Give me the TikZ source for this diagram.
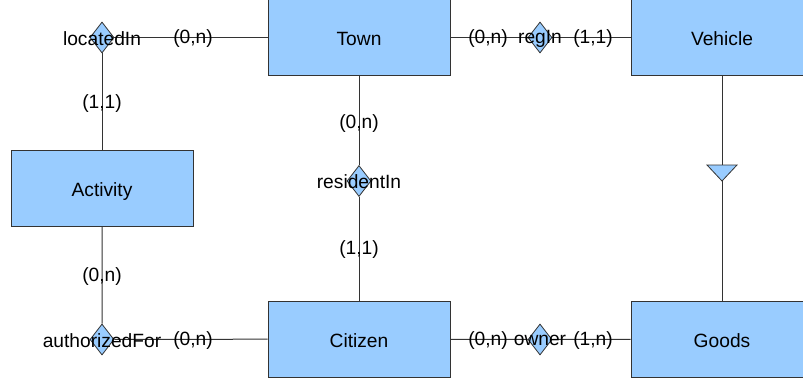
\documentclass[tikz,border=0pt]{standalone}
\usepackage{fontspec}
\setmainfont{Liberation Sans}
\usetikzlibrary{shapes.geometric,backgrounds,calc}
\definecolor{entfill}{HTML}{99CCFF}
\definecolor{edgecol}{HTML}{333333}
\begin{document}
\begin{tikzpicture}[x=1pt,y=-1pt,
  every node/.style={font=\fontsize{19.2}{23}\selectfont},
  every label/.style={yshift=-1pt},
  entity/.style={rectangle, draw=edgecol, fill=entfill, line width=1pt,
    minimum width=182pt, minimum height=76pt, inner sep=0pt,
    text height=16pt, text depth=0pt},
  rel/.style={diamond, draw=edgecol, fill=entfill, line width=0.8pt,
    minimum width=24pt, minimum height=31pt, inner sep=0pt},
  card/.style={inner sep=0pt},
  link/.style={draw=edgecol, line width=1pt}]
\useasboundingbox (0,0) rectangle (803,383);

% entities
\node[entity] (town)     at (359,37.5)  {Town};
\node[entity] (vehicle)  at (722,37.5)  {Vehicle};
\node[entity] (activity) at (102,188.5) {Activity};
\node[entity] (citizen)  at (359,339)   {Citizen};
\node[entity] (goods)    at (722,339)   {Goods};

% relationships
\node[rel, label=center:locatedIn]     (locatedIn)     at (102,37.5)  {};
\node[rel, label=center:regIn]         (regIn)         at (540,37.5)  {};
\node[rel, label=center:residentIn]    (residentIn)    at (359,181)   {};
\node[rel, label=center:authorizedFor] (authorizedFor) at (102,339.5) {};
\node[rel, label=center:owner]         (owner)         at (540,339.5) {};

% connectors
\begin{scope}[on background layer]
  \draw[link] (locatedIn) -- (town);
  \draw[link] (locatedIn) -- (activity);
  \draw[link] (town) -- (regIn) -- (vehicle);
  \draw[link] (town) -- (residentIn) -- (citizen);
  \draw[link] (activity) -- (authorizedFor) -- (citizen);
  \draw[link] (citizen) -- (owner) -- (goods);
  \draw[link] (vehicle) -- (goods);
\end{scope}

% generalisation triangle
\coordinate (isa) at (722,173);
\filldraw[draw=edgecol, fill=entfill, line width=0.8pt]
  ($(isa)+(-15,-8)$) -- ($(isa)+(15,-8)$) -- ($(isa)+(0,8)$) -- cycle;

% cardinalities
\node[card] (cLocT)  at (193,39)    {(0,n)};
\node[card] (cLocA)  at (102,103.5) {(1,1)};
\node[card] (cRegT)  at (488,39)    {(0,n)};
\node[card] (cRegV)  at (593,39)    {(1,1)};
\node[card] (cResT)  at (359,123.5) {(0,n)};
\node[card] (cResC)  at (359,249.5) {(1,1)};
\node[card] (cAutA)  at (102,276.5) {(0,n)};
\node[card] (cAutC)  at (193,341)   {(0,n)};
\node[card] (cOwnC)  at (488,341)   {(0,n)};
\node[card] (cOwnG)  at (593,341)   {(1,n)};
\end{tikzpicture}
\end{document}
